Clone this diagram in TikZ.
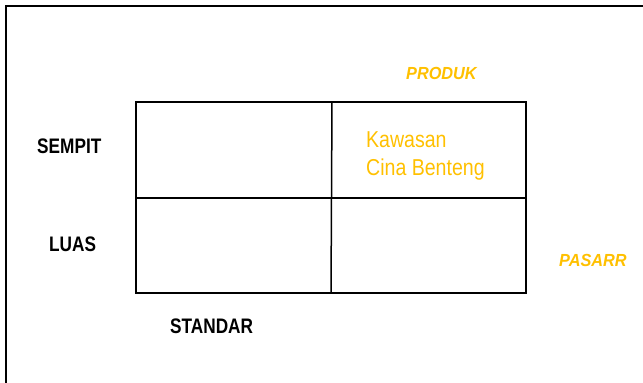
\documentclass[tikz,border=0pt]{standalone}
\usepackage{fontspec}
\setmainfont{Liberation Sans}
\newfontfamily\narrowfont[FakeStretch=0.82]{Liberation Sans}
\newfontfamily\cellfont[FakeStretch=0.85]{Liberation Sans}
\newfontfamily\axisfont[FakeStretch=0.93]{Liberation Sans}
\definecolor{amber}{HTML}{FFC000}
\begin{document}
\begin{tikzpicture}[x=1pt,y=-1pt,
  frameline/.style={line width=1.8pt,black},
  gridline/.style={line width=1.5pt,black},
  rowlabel/.style={anchor=base west,inner sep=0pt,font=\narrowfont\bfseries\fontsize{21}{24}\selectfont},
  axislabel/.style={anchor=base west,inner sep=0pt,text=amber,font=\axisfont\bfseries\itshape\fontsize{17.5}{20}\selectfont},
  celltext/.style={anchor=base west,inner sep=0pt,text=amber,font=\cellfont\fontsize{23}{28}\selectfont}]
\useasboundingbox (0,0) rectangle (643,383);
\begin{scope}
\clip (0,0) rectangle (643,383);
% outer frame (runs off the right and bottom)
\draw[frameline] (6,400) -- (6,6) -- (660,6);
\end{scope}
% matrix corners
\coordinate (tl) at (136,102);
\coordinate (tm) at (332,102);
\coordinate (tr) at (526,102);
\coordinate (ml) at (136,198);
\coordinate (mr) at (526,198);
\coordinate (bl) at (136,293);
\coordinate (bm) at (331,293);
\coordinate (br) at (526,293);
\draw[gridline] (tl) -- (tr) -- (br) -- (bl) -- cycle;
\draw[gridline] (ml) -- (mr);
\draw[gridline] (tm) -- (bm);
% labels
\node[rowlabel] (sempit) at (37,153) {SEMPIT};
\node[rowlabel] (luas) at (49,251) {LUAS};
\node[rowlabel] (standar) at (170,333) {STANDAR};
\node[axislabel] (produk) at (406,79) {PRODUK};
\node[axislabel] (pasar) at (559,266) {PASARR};
\node[celltext] (kawasan) at (366,147) {Kawasan};
\node[celltext] (cina) at (366,175) {Cina Benteng};
\end{tikzpicture}
\end{document}
